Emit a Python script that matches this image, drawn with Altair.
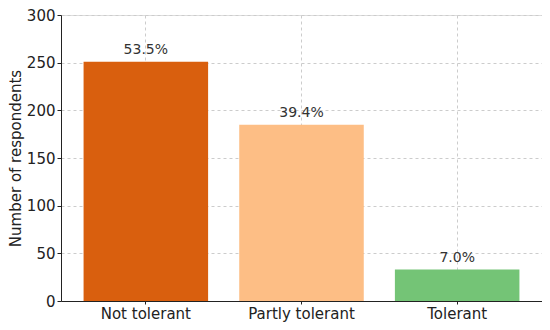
import altair as alt
import pandas as pd

categories = ["Not tolerant", "Partly tolerant", "Tolerant"]
counts = [251, 185, 33]
percent_labels = ["53.5%", "39.4%", "7.0%"]
colors = ["#D95F0E", "#FDBE85", "#74C476"]

df = pd.DataFrame({"cat": categories, "n": counts, "pct": percent_labels})

x = alt.X("cat:N", sort=categories, title=None,
          scale=alt.Scale(paddingInner=0.2, paddingOuter=0.145),
          axis=alt.Axis(labelAngle=0, labelFontSize=15, labelColor="#222", grid=True,
                        gridDash=[3, 3], gridColor="#cccccc", bandPosition=0.5,
                        domainColor="#222", tickColor="#222", tickSize=3, labelPadding=2))
y = alt.Y("n:Q", title="Number of respondents",
          scale=alt.Scale(domain=[0, 300], nice=False),
          axis=alt.Axis(values=[0, 50, 100, 150, 200, 250, 300], labelFontSize=15, labelColor="#222",
                        titleFontSize=15, titleFontWeight="normal", titleColor="#222",
                        gridDash=[3, 3], gridColor="#cccccc", domainColor="#222",
                        tickColor="#222", tickSize=4, labelPadding=2, titlePadding=3))

bars = alt.Chart(df).mark_bar().encode(
    x=x, y=y,
    color=alt.Color("cat:N", scale=alt.Scale(domain=categories, range=colors), legend=None),
)
text = alt.Chart(df).mark_text(dy=-12, fontSize=14, color="#333").encode(
    x=alt.X("cat:N", sort=categories), y="n:Q", text="pct:N"
)

chart = (bars + text).properties(
    width=481, height=286,
    autosize=alt.AutoSizeParams(type="none"),
    padding={"left": 53, "top": 7, "right": 0, "bottom": 21},
).configure_view(stroke=None).configure(font="DejaVu Sans")
chart.save("out.html", embed_options={"renderer": "svg", "actions": False})
